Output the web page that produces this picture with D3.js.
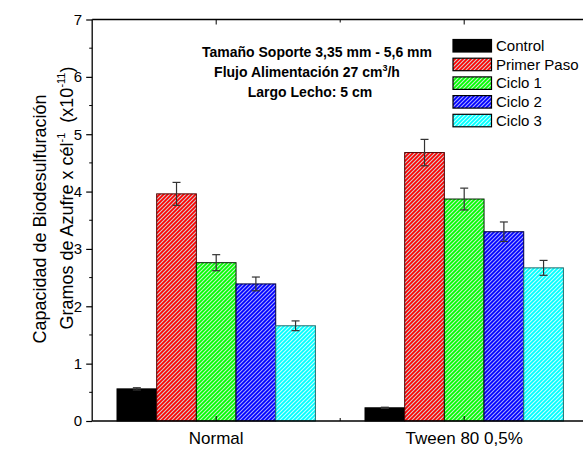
<!DOCTYPE html>
<html><head><meta charset="utf-8">
<script src="https://cdn.jsdelivr.net/npm/d3@7"></script>
<style>body{margin:0;background:#fff}svg{display:block;font-family:"Liberation Sans",Arial,sans-serif}</style>
</head><body><svg id="c" width="583" height="449"></svg>
<script>
const categories = ["Normal", "Tween 80 0,5%"];
const seriesNames = ["Control", "Primer Paso", "Ciclo 1", "Ciclo 2", "Ciclo 3"];
const values = {
  "Control":     [0.56, 0.23],
  "Primer Paso": [3.96, 4.68],
  "Ciclo 1":     [2.76, 3.87],
  "Ciclo 2":     [2.39, 3.30],
  "Ciclo 3":     [1.66, 2.67]
};
const errors = {
  "Control":     [0.02, 0.01],
  "Primer Paso": [0.20, 0.23],
  "Ciclo 1":     [0.14, 0.19],
  "Ciclo 2":     [0.12, 0.17],
  "Ciclo 3":     [0.085, 0.13]
};
const colors = ["#000000", "#ff0000", "#00ff00", "#0000ff", "#00ffff"];
const strokes = ["#000000", "#500000", "#002200", "#000040", "#1f6f6f"];
const stripeColors = [null, "#cfcfcf", "#c8f0c8", "#a8a8ff", "#c8ffff"];
const hatched = [false, true, true, true, true];
const yTicks = [0,1,2,3,4,5,6,7];
const annotation = ["Tamaño Soporte 3,35 mm - 5,6 mm", "Flujo Alimentación 27 cm³/h", "Largo Lecho: 5 cm"];

(function () {
const svg = d3.select("#c");
const pL = 92.2, pB = 421, pT = 19.5, pR = 588.2;
const x = d3.scaleLinear().domain([0.5, 2.5]).range([pL, pR]);
const y = d3.scaleLinear().domain([0, 7]).range([pB, pT]);
const groupW = 0.8;
const bw = (x(1) - x(0)) * groupW / seriesNames.length;

const defs = svg.append("defs");
colors.forEach((c, i) => {
  if (!hatched[i]) return;
  const p = defs.append("pattern").attr("id", "h" + i).attr("patternUnits", "userSpaceOnUse")
    .attr("width", 4).attr("height", 4);
  p.append("rect").attr("width", 4).attr("height", 4).attr("fill", c);
  p.append("path").attr("d", "M-1,1L1,-1M0,4L4,0M3,5L5,3")
    .attr("stroke", stripeColors[i]).attr("stroke-width", 1.1);
});
const fillOf = i => hatched[i] ? `url(#h${i})` : colors[i];

seriesNames.forEach((s, si) => {
  categories.forEach((cat, ci) => {
    const cx = x(ci + 1) - (x(1) - x(0)) * groupW / 2 + si * bw;
    const v = values[s][ci];
    svg.append("rect").attr("x", cx).attr("y", y(v)).attr("width", bw).attr("height", y(0) - y(v))
      .attr("fill", fillOf(si)).attr("stroke", strokes[si]).attr("stroke-width", 1);
  });
});
seriesNames.forEach((s, si) => {
  categories.forEach((cat, ci) => {
    const mx = x(ci + 1) - (x(1) - x(0)) * groupW / 2 + (si + 0.5) * bw;
    const v = values[s][ci], e = errors[s][ci];
    const g = svg.append("g").attr("stroke", "#333").attr("stroke-width", 1.2);
    g.append("line").attr("x1", mx).attr("x2", mx).attr("y1", y(v + e)).attr("y2", y(v - e));
    g.append("line").attr("x1", mx - 4).attr("x2", mx + 4).attr("y1", y(v + e)).attr("y2", y(v + e));
    g.append("line").attr("x1", mx - 4).attr("x2", mx + 4).attr("y1", y(v - e)).attr("y2", y(v - e));
  });
});

svg.append("line").attr("x1", pL).attr("x2", 583).attr("y1", pB).attr("y2", pB).attr("stroke", "#000").attr("stroke-width", 1.3);
svg.append("line").attr("x1", pL).attr("x2", 583).attr("y1", pT).attr("y2", pT).attr("stroke", "#000").attr("stroke-width", 1.3);
const yAxis = d3.axisLeft(y).tickValues(yTicks).tickSize(6).tickPadding(4).tickFormat(d3.format("d"));
const ga = svg.append("g").attr("transform", `translate(${pL},0)`).call(yAxis);
ga.select(".domain").attr("stroke-width", 1.3).attr("d", `M0,${pB}V${pT}`);
ga.selectAll("text").attr("font-size", 15).attr("fill", "#000").attr("font-family", "Liberation Sans, Arial, sans-serif");
ga.selectAll(".tick line").attr("stroke-width", 1.2);
const minor = d3.range(0.5, 7, 1);
svg.append("g").selectAll("line").data(minor).join("line")
  .attr("x1", pL - 3).attr("x2", pL).attr("y1", d => y(d)).attr("y2", d => y(d)).attr("stroke", "#000");
[1, 1.5, 2].forEach(t => {
  const len = t % 1 === 0 ? 5 : 3;
  svg.append("line").attr("x1", x(t)).attr("x2", x(t)).attr("y1", pB).attr("y2", pB - len).attr("stroke", "#000");
  svg.append("line").attr("x1", x(t)).attr("x2", x(t)).attr("y1", pT).attr("y2", pT + len).attr("stroke", "#000");
});
categories.forEach((c, i) => {
  svg.append("text").attr("x", x(i + 1)).attr("y", 444).attr("text-anchor", "middle")
    .attr("font-size", 17).text(c);
});

const yt = svg.append("text").attr("transform", "translate(46,219) rotate(-90)").attr("text-anchor", "middle").attr("font-size", 18);
yt.append("tspan").attr("x", 0).attr("y", 0).text("Capacidad de Biodesulfuración");
const t2 = svg.append("text").attr("transform", "translate(73,198) rotate(-90)").attr("text-anchor", "middle").attr("font-size", 18);
t2.append("tspan").text("Gramos de Azufre x cél");
t2.append("tspan").attr("font-size", 11).attr("dy", -8).text("-1");
t2.append("tspan").attr("dy", 8).text("\u00a0\u00a0(x10");
t2.append("tspan").attr("font-size", 11).attr("dy", -8).text("-11");
t2.append("tspan").attr("dy", 8).text(")");

const ann = svg.append("g").attr("font-weight", "bold").attr("font-size", 14).attr("text-anchor", "middle");
ann.append("text").attr("x", 317).attr("y", 57).text(annotation[0]);
const a2 = ann.append("text").attr("x", 307).attr("y", 77);
a2.append("tspan").text("Flujo Alimentación 27 cm");
a2.append("tspan").attr("font-size", 9).attr("dy", -6).text("3");
a2.append("tspan").attr("dy", 6).text("/h");
ann.append("text").attr("x", 310).attr("y", 97).text(annotation[2]);

seriesNames.forEach((s, i) => {
  const ly = 39.5 + i * 18.7;
  svg.append("rect").attr("x", 453).attr("y", ly).attr("width", 38.5).attr("height", 12.5)
    .attr("fill", fillOf(i)).attr("stroke", "#000").attr("stroke-width", 1.2);
  svg.append("text").attr("x", 496).attr("y", ly + 11.5).attr("font-size", 15).text(s);
});
})();
</script></body></html>
